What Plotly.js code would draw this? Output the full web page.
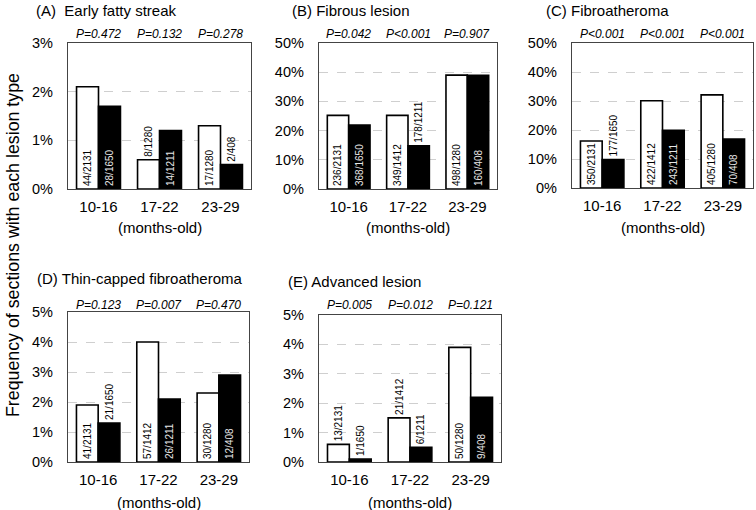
<!DOCTYPE html>
<html>
<head>
<meta charset="utf-8">
<script src="https://cdn.plot.ly/plotly-3.0.1.min.js"></script>
<style>html,body{margin:0;padding:0;background:#fff;}#chart{width:756px;height:510px;}</style>
</head>
<body>
<div id="chart"></div>
<script>
// ---------- data ----------
const categories = ['10-16', '17-22', '23-29'];

const panelTitles = ['(A)  Early fatty streak', '(B) Fibrous lesion', '(C) Fibroatheroma',
                     '(D) Thin-capped fibroatheroma', '(E) Advanced lesion'];

const whiteA = [2.1, 0.6, 1.3];
const blackA = [1.7, 1.2, 0.5];
const whiteLabelsA = ['44/2131', '8/1280', '17/1280'];
const blackLabelsA = ['28/1650', '14/1211', '2/408'];
const pValuesA = ['P=0.472', 'P=0.132', 'P=0.278'];

const whiteB = [25.2, 25.2, 39.0];
const blackB = [21.9, 14.8, 38.9];
const whiteLabelsB = ['236/2131', '349/1412', '498/1280'];
const blackLabelsB = ['368/1650', '178/1211', '160/408'];
const pValuesB = ['P=0.042', 'P<0.001', 'P=0.907'];

const whiteC = [16.2, 30.1, 32.1];
const blackC = [9.8, 19.9, 16.9];
const whiteLabelsC = ['350/2131', '422/1412', '405/1280'];
const blackLabelsC = ['177/1650', '243/1211', '70/408'];
const pValuesC = ['P<0.001', 'P<0.001', 'P<0.001'];

const whiteD = [1.9, 4.0, 2.3];
const blackD = [1.3, 2.1, 2.9];
const whiteLabelsD = ['41/2131', '57/1412', '30/1280'];
const blackLabelsD = ['21/1650', '26/1211', '12/408'];
const pValuesD = ['P=0.123', 'P=0.007', 'P=0.470'];

const whiteE = [0.6, 1.5, 3.9];
const blackE = [0.1, 0.5, 2.2];
const whiteLabelsE = ['13/2131', '21/1412', '50/1280'];
const blackLabelsE = ['1/1650', '6/1211', '9/408'];
const pValuesE = ['P=0.005', 'P=0.012', 'P=0.121'];

// ---------- styling / layout config ----------
const W = 756, H = 510;
const FONT = 'Liberation Sans, Arial, sans-serif';
const LABEL_SIZE = 10;

// label placement (inside bar base or above bar), per panel
const posIn = 'inside', posOut = 'outside';
const panels = [
  {w: whiteA, b: blackA, wl: whiteLabelsA, bl: blackLabelsA, p: pValuesA, ymax: 3, dtick: 1,
   wp: [posIn, posOut, posIn], bp: [posIn, posIn, posOut],
   box: [68, 251, 43, 189], titleXY: [34, 10], pY: 34, monthsY: 227},
  {w: whiteB, b: blackB, wl: whiteLabelsB, bl: blackLabelsB, p: pValuesB, ymax: 50, dtick: 10,
   wp: [posIn, posIn, posIn], bp: [posIn, posOut, posIn],
   box: [319, 497, 43, 189], titleXY: [290, 10], pY: 34, monthsY: 227},
  {w: whiteC, b: blackC, wl: whiteLabelsC, bl: blackLabelsC, p: pValuesC, ymax: 50, dtick: 10,
   wp: [posIn, posIn, posIn], bp: [posOut, posIn, posIn],
   box: [572, 753, 43, 188], titleXY: [544, 10], pY: 34, monthsY: 227},
  {w: whiteD, b: blackD, wl: whiteLabelsD, bl: blackLabelsD, p: pValuesD, ymax: 5, dtick: 1,
   wp: [posIn, posIn, posIn], bp: [posOut, posIn, posIn],
   box: [68, 249, 312, 462], titleXY: [35, 278], pY: 305, monthsY: 502},
  {w: whiteE, b: blackE, wl: whiteLabelsE, bl: blackLabelsE, p: pValuesE, ymax: 5, dtick: 1,
   wp: [posOut, posOut, posIn], bp: [posOut, posOut, posIn],
   box: [319, 501, 315, 462], titleXY: [286, 281], pY: 305, monthsY: 502}
];

const data = [];
const layout = {
  width: W, height: H,
  margin: {l: 0, r: 0, t: 0, b: 0},
  paper_bgcolor: '#fff', plot_bgcolor: '#fff',
  showlegend: false,
  barmode: 'group', bargap: 0.28, bargroupgap: 0,
  font: {family: FONT, color: '#000'},
  annotations: []
};

panels.forEach((pn, i) => {
  const n = i === 0 ? '' : String(i + 1);
  const xa = 'x' + n, ya = 'y' + n;
  const [x0, x1, y0, y1] = pn.box;
  const common = {
    type: 'bar', x: categories, xaxis: xa, yaxis: ya,
    textangle: -90, insidetextanchor: 'start', constraintext: 'none', cliponaxis: false,
    hoverinfo: 'skip'
  };
  data.push(Object.assign({}, common, {
    y: pn.w, text: pn.wl, textposition: pn.wp,
    marker: {color: '#ffffff', line: {color: '#000', width: 1.6}},
    insidetextfont: {family: FONT, size: LABEL_SIZE, color: '#000'},
    outsidetextfont: {family: FONT, size: LABEL_SIZE, color: '#000'}
  }));
  data.push(Object.assign({}, common, {
    y: pn.b, text: pn.bl, textposition: pn.bp,
    marker: {color: '#000000', line: {color: '#000', width: 1.6}},
    insidetextfont: {family: FONT, size: LABEL_SIZE, color: '#e6e6e6'},
    outsidetextfont: {family: FONT, size: LABEL_SIZE, color: '#000'}
  }));

  layout['xaxis' + n] = {
    domain: [x0 / W, x1 / W], anchor: ya, type: 'category',
    showline: true, mirror: true, linecolor: '#444', linewidth: 1.2,
    showgrid: false, ticks: '', ticklabelstandoff: 4,
    tickfont: {family: FONT, size: 15, color: '#000'}, fixedrange: true
  };
  layout['yaxis' + n] = {
    domain: [1 - y1 / H, 1 - y0 / H], anchor: xa,
    range: [0, pn.ymax], dtick: pn.dtick, tick0: 0, ticksuffix: '%',
    showline: true, mirror: true, linecolor: '#444', linewidth: 1.2,
    showgrid: true, gridcolor: '#cfcfcf', gridwidth: 1, griddash: 'dash',
    zeroline: false, ticks: '', ticklabelstandoff: 11,
    tickfont: {family: FONT, size: 14.5, color: '#000'}, fixedrange: true
  };

  // panel title
  layout.annotations.push({
    text: panelTitles[i], xref: 'paper', yref: 'paper',
    x: pn.titleXY[0] / W, y: 1 - pn.titleXY[1] / H, xanchor: 'left', yanchor: 'middle',
    showarrow: false, font: {family: FONT, size: 15, color: '#000'}
  });
  // p-values above groups
  pn.p.forEach((pv, k) => {
    layout.annotations.push({
      text: pv, xref: xa, yref: 'paper', x: categories[k], y: 1 - pn.pY / H,
      xanchor: 'center', yanchor: 'middle', showarrow: false,
      font: {family: FONT, size: 12, color: '#000', style: 'italic'}
    });
  });
  // x axis caption
  layout.annotations.push({
    text: '(months-old)', xref: 'paper', yref: 'paper',
    x: (x0 + x1) / 2 / W, y: 1 - pn.monthsY / H, xanchor: 'center', yanchor: 'middle',
    showarrow: false, font: {family: FONT, size: 15, color: '#000'}
  });
});

// shared y title
layout.annotations.push({
  text: 'Frequency of sections with each lesion type', xref: 'paper', yref: 'paper',
  x: 13 / W, y: 1 - 245 / H, xanchor: 'center', yanchor: 'middle', textangle: -90,
  showarrow: false, font: {family: FONT, size: 17.8, color: '#000'}
});

Plotly.newPlot('chart', data, layout, {displayModeBar: false, staticPlot: true});
</script>
</body>
</html>
